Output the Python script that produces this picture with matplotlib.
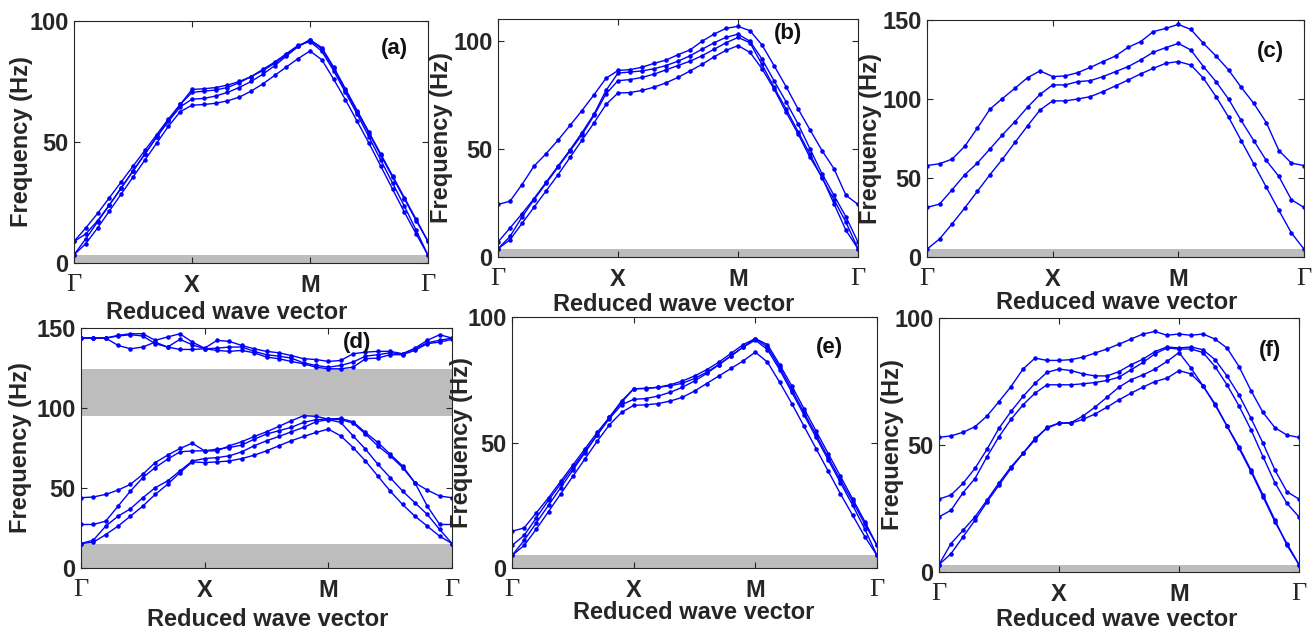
import matplotlib.pyplot as plt
import numpy as np

plt.rcParams['font.family'] = ['Liberation Sans', 'DejaVu Sans']
plt.rcParams['font.weight'] = 'bold'

# 31 k-points along G-X-M-G (10 steps per segment)
k = np.arange(31)
sym_ticks = [0, 10, 20, 30]
sym_labels = ['Γ', 'X', 'M', 'Γ']

# ---- panel (a)
a1 = [8.9, 14.5, 20.5, 27.0, 33.5, 40.0, 46.5, 53.0, 59.5, 65.5, 71.7,
      72.0, 72.5, 73.5, 75.0, 77.0, 79.5, 82.5, 86.0, 89.5, 92.3,
      89.0, 81.0, 72.0, 63.0, 54.0, 45.0, 36.0, 27.0, 18.0, 8.9]
a2 = [8.9, 12.0, 17.5, 24.0, 31.0, 38.0, 45.0, 52.0, 58.5, 64.5, 67.7,
      68.0, 69.0, 70.5, 72.5, 75.0, 78.0, 81.5, 85.5, 89.5, 92.0,
      88.5, 80.5, 71.5, 62.5, 53.5, 44.5, 35.5, 26.5, 17.5, 8.9]
a3 = [3.4, 8.0, 14.5, 21.5, 28.5, 35.5, 42.5, 49.5, 56.5, 62.5, 65.2,
      65.5, 66.0, 67.0, 68.5, 71.0, 74.0, 77.5, 81.0, 84.5, 87.6,
      84.0, 76.0, 67.5, 58.5, 49.5, 40.0, 30.5, 21.0, 12.0, 3.2]
a4 = [3.4, 10.0, 17.0, 24.0, 31.0, 38.0, 45.0, 52.0, 59.0, 65.5, 70.5,
      71.0, 71.5, 72.5, 74.5, 77.0, 80.0, 83.0, 86.5, 90.0, 91.5,
      87.5, 79.5, 70.5, 61.5, 52.0, 42.5, 33.0, 23.5, 13.5, 3.2]
a_gaps = [(0, 3.2)]

# ---- panel (b)
b1 = [24.3, 25.8, 33.5, 42.0, 47.7, 54.0, 60.8, 67.7, 75.0, 82.6, 86.2,
      86.6, 87.7, 89.5, 91.0, 93.5, 95.7, 99.7, 103.0, 105.7, 106.6,
      104.6, 98.0, 88.5, 78.8, 68.5, 58.8, 49.2, 40.8, 28.5, 24.3]
b2 = [6.9, 13.4, 20.0, 27.0, 34.5, 42.0, 49.5, 57.5, 66.0, 77.0, 85.0,
      85.5, 86.0, 87.0, 88.5, 90.5, 93.0, 96.0, 99.0, 101.5, 103.0,
      99.7, 91.5, 81.5, 71.8, 61.5, 50.0, 38.5, 28.5, 18.5, 6.9]
b3 = [3.8, 9.5, 18.5, 26.5, 34.0, 41.5, 49.0, 56.5, 65.4, 75.4, 81.5,
      82.0, 83.0, 84.5, 86.5, 88.5, 90.5, 93.0, 96.0, 99.0, 101.5,
      99.0, 89.0, 78.5, 68.5, 58.0, 47.5, 36.5, 26.5, 16.0, 3.8]
b4 = [3.8, 8.0, 15.5, 23.0, 30.5, 38.0, 46.0, 54.0, 62.0, 70.5, 75.8,
      76.0, 77.0, 78.5, 80.5, 83.0, 86.0, 89.0, 92.5, 95.5, 97.7,
      94.6, 87.0, 77.7, 67.0, 57.0, 46.0, 37.0, 24.6, 12.3, 3.8]
b_gaps = [(0, 3.8)]

# ---- panel (c)
c1 = [57.9, 59.0, 62.0, 70.0, 81.5, 93.5, 100.3, 106.8, 113.5, 117.8, 114.2,
      114.6, 116.7, 120.0, 123.7, 127.2, 132.7, 136.3, 142.6, 144.7, 147.2,
      144.0, 135.2, 127.2, 118.4, 107.4, 97.3, 85.1, 67.4, 59.4, 57.9]
c2 = [31.4, 33.5, 42.6, 52.0, 59.4, 68.3, 77.3, 85.7, 94.8, 103.0, 108.9,
      108.9, 111.0, 111.6, 114.2, 117.3, 120.5, 124.7, 129.6, 132.5, 135.2,
      131.0, 120.5, 111.0, 99.9, 86.4, 73.7, 61.1, 51.0, 36.2, 31.4]
c3 = [5.0, 11.4, 21.0, 31.0, 41.5, 52.0, 61.9, 72.5, 83.0, 93.1, 98.8,
      98.8, 100.0, 101.5, 104.7, 108.3, 112.0, 115.9, 119.4, 122.6, 123.7,
      121.5, 113.1, 101.5, 88.5, 73.7, 59.0, 44.2, 29.5, 15.2, 5.0]
c_gaps = [(0, 5.0)]

# ---- panel (d)
d1 = [43.9, 44.4, 46.0, 48.7, 52.3, 58.6, 65.9, 70.5, 74.7, 78.0, 73.2,
      73.2, 76.4, 78.9, 82.2, 85.1, 88.5, 92.0, 95.2, 94.8, 93.1,
      92.7, 90.6, 83.7, 76.4, 70.1, 62.8, 53.3, 48.7, 45.0, 43.9]
d2 = [27.2, 27.2, 29.3, 38.7, 48.1, 56.5, 62.8, 68.0, 72.6, 73.2, 73.2,
      74.3, 75.3, 76.8, 80.5, 83.7, 85.8, 87.9, 91.0, 92.7, 93.1,
      93.5, 91.4, 84.7, 78.5, 71.1, 63.8, 53.3, 38.7, 27.2, 27.2]
d3 = [15.3, 17.4, 26.2, 32.4, 37.0, 43.9, 50.2, 54.4, 60.7, 66.9, 68.4,
      69.0, 70.1, 72.6, 76.4, 79.5, 82.2, 85.1, 87.9, 91.4, 92.7,
      91.0, 82.6, 74.3, 64.9, 56.5, 48.1, 40.8, 33.5, 24.1, 15.3]
d4 = [15.3, 16.1, 20.9, 26.2, 32.4, 38.7, 46.0, 52.3, 59.6, 66.3, 65.9,
      66.3, 66.9, 68.4, 70.5, 73.2, 76.4, 79.5, 82.2, 84.7, 86.8,
      82.6, 75.3, 66.9, 57.5, 48.1, 39.7, 32.4, 26.2, 19.9, 15.3]
d5 = [143.7, 143.7, 143.7, 145.4, 146.4, 146.4, 142.3, 144.4, 146.4, 141.2, 137.4,
      142.3, 141.6, 139.1, 137.0, 135.4, 134.5, 132.8, 130.8, 130.3, 129.1,
      129.7, 133.9, 134.9, 135.4, 135.4, 133.9, 137.4, 142.3, 145.8, 143.7]
d6 = [143.7, 143.7, 143.7, 139.1, 137.0, 138.1, 141.2, 138.1, 142.9, 139.5, 137.0,
      137.4, 138.1, 138.1, 135.4, 133.3, 132.4, 131.2, 128.2, 126.6, 125.5,
      126.6, 128.7, 132.4, 133.3, 134.5, 133.9, 137.0, 140.8, 142.3, 143.7]
d7 = [143.7, 143.7, 143.7, 145.0, 145.8, 145.0, 140.2, 138.1, 136.6, 136.6, 137.0,
      136.0, 135.4, 136.0, 134.5, 131.8, 130.8, 129.1, 127.6, 125.5, 124.5,
      124.5, 125.5, 130.8, 131.2, 133.3, 133.3, 136.0, 140.2, 141.2, 142.9]
d_gaps = [(0, 15.3), (95.2, 124.5)]

# ---- panel (e)
e1 = [14.6, 16.0, 22.0, 28.0, 34.5, 41.0, 47.5, 54.0, 60.0, 66.0, 71.4,
      71.6, 72.0, 72.6, 73.6, 75.5, 78.0, 81.0, 84.5, 88.0, 91.4,
      88.0, 80.0, 71.0, 62.0, 53.0, 44.0, 35.0, 26.5, 17.5, 9.0]
e2 = [9.0, 13.0, 20.0, 27.0, 33.5, 40.0, 46.5, 53.0, 59.5, 65.0, 67.2,
      67.5, 68.5, 70.0, 72.0, 74.5, 77.5, 81.0, 84.5, 88.0, 90.8,
      87.0, 79.0, 70.0, 61.0, 52.0, 43.0, 34.0, 25.0, 15.5, 5.0]
e3 = [5.0, 9.0, 15.5, 22.5, 29.5, 36.5, 43.5, 50.5, 57.0, 62.0, 64.8,
      65.0, 65.5, 66.5, 68.0, 70.5, 73.5, 76.5, 79.5, 82.5, 86.0,
      82.0, 74.0, 65.5, 56.5, 47.5, 38.5, 29.5, 21.0, 12.5, 5.0]
e4 = [5.0, 11.0, 18.0, 25.0, 32.0, 39.0, 46.0, 53.0, 60.0, 66.5, 71.4,
      71.5, 72.0, 73.0, 74.5, 76.5, 79.0, 82.0, 85.5, 89.0, 91.4,
      89.0, 81.0, 72.5, 63.5, 54.5, 45.5, 36.5, 27.5, 18.5, 9.0]
e_gaps = [(0, 5.3)]

# ---- panel (f)
f1 = [53.0, 53.6, 55.0, 57.2, 61.4, 67.1, 73.0, 79.9, 84.2, 83.3, 83.3,
      83.6, 84.6, 86.2, 87.8, 89.7, 91.7, 93.7, 94.7, 93.2, 93.7,
      93.2, 93.7, 91.7, 88.2, 80.9, 71.4, 62.8, 56.8, 53.9, 53.0]
f2 = [28.7, 30.3, 34.9, 40.8, 48.3, 56.6, 63.2, 69.1, 74.3, 78.6, 79.9,
      79.3, 78.0, 77.2, 77.2, 78.9, 81.6, 83.8, 86.8, 88.6, 88.2,
      88.6, 87.5, 83.6, 77.2, 69.7, 60.5, 50.7, 40.1, 31.6, 28.7]
f3 = [21.7, 24.3, 31.2, 36.8, 45.4, 53.3, 60.1, 65.8, 70.4, 73.7, 73.7,
      73.7, 74.1, 74.6, 75.4, 76.7, 79.6, 82.5, 85.9, 88.2, 87.8,
      87.8, 86.4, 80.9, 73.7, 65.4, 56.0, 45.4, 35.1, 27.0, 21.7]
f4 = [2.9, 11.2, 16.4, 21.7, 28.3, 35.1, 41.4, 46.7, 52.6, 56.6, 58.6,
      58.8, 61.4, 64.9, 68.8, 72.8, 75.7, 77.6, 79.9, 82.9, 86.4,
      80.3, 73.3, 66.2, 57.5, 49.3, 40.1, 30.3, 20.4, 10.5, 2.9]
f5 = [2.9, 7.2, 13.8, 20.4, 27.6, 34.2, 40.8, 46.7, 52.0, 57.0, 58.6,
      58.6, 60.1, 62.2, 64.9, 67.8, 70.4, 72.8, 75.0, 76.3, 79.3,
      78.0, 73.3, 65.8, 57.5, 48.7, 39.5, 29.6, 19.7, 11.2, 2.9]
f_gaps = [(0, 2.9)]

# name, curves, gaps, ylim, yticks
panels = [
    ('(a)', [a1, a2, a3, a4], a_gaps, 100, [0, 50, 100]),
    ('(b)', [b1, b2, b3, b4], b_gaps, 110, [0, 50, 100]),
    ('(c)', [c1, c2, c3], c_gaps, 150, [0, 50, 100, 150]),
    ('(d)', [d1, d2, d3, d4, d5, d6, d7], d_gaps, 150, [0, 50, 100, 150]),
    ('(e)', [e1, e2, e3, e4], e_gaps, 100, [0, 50, 100]),
    ('(f)', [f1, f2, f3, f4, f5], f_gaps, 100, [0, 50, 100]),
]

# axes rect (px: left, top, right, bottom), ylabel x, xlabel (x, y), letter (x, y)
W, H = 1316, 630
layout = [
    ((74, 21, 428, 263), -0.116, (0.432, -0.155), (0.904, 0.888)),
    ((498, 19, 858, 257), -0.125, (0.489, -0.150), (0.806, 0.940)),
    ((927, 20, 1304, 257), -0.119, (0.504, -0.142), (0.912, 0.865)),
    ((81, 328, 452, 568), -0.132, (0.502, -0.167), (0.745, 0.940)),
    ((512, 317, 877, 568), -0.107, (0.497, -0.132), (0.871, 0.880)),
    ((939, 318, 1299, 572), -0.097, (0.494, -0.142), (0.919, 0.874)),
]

fig = plt.figure(figsize=(W / 100, H / 100), dpi=100)

for (name, curves, gaps, ytop, yt), (box, ylx, xl, lt) in zip(panels, layout):
    l, t, r, b = box
    ax = fig.add_axes([l / W, (H - b) / H, (r - l) / W, (b - t) / H])
    for lo, hi in gaps:
        ax.axhspan(lo, hi, color='#bdbdbd', lw=0, zorder=0)
    for c in curves:
        ax.plot(k, c, '-', color='#0000ff', lw=1.0, marker='.', ms=4.5)
    ax.set_xlim(0, 30)
    ax.set_ylim(0, ytop)
    ax.set_yticks(yt)
    ax.set_xticks(sym_ticks)
    ax.set_xticklabels(sym_labels)
    ax.tick_params(direction='in', top=True, right=True, length=4,
                   width=0.8, labelsize=17, colors='#262626')
    ax.tick_params(axis='x', pad=8)
    ax.tick_params(axis='y', pad=4)
    for lab in ax.get_xticklabels():
        if lab.get_text() == 'Γ':
            lab.set_family('Liberation Serif')
            lab.set_weight('normal')
            lab.set_fontsize(19)
    for sp in ax.spines.values():
        sp.set_color('#262626')
        sp.set_linewidth(0.8)
    ax.set_ylabel('Frequency (Hz)', fontsize=17, fontweight='bold', color='#262626')
    ax.yaxis.set_label_coords(ylx, 0.5)
    ax.set_xlabel('Reduced wave vector', fontsize=17, fontweight='bold', color='#262626')
    ax.xaxis.set_label_coords(xl[0], xl[1])
    ax.text(lt[0], lt[1], name, transform=ax.transAxes, ha='center', va='center',
            fontsize=16, fontweight='bold', color='#111111')

fig.savefig('out.png', dpi=100)
